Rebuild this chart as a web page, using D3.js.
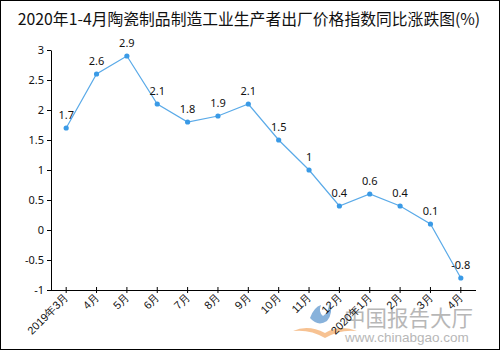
<!DOCTYPE html>
<html><head><meta charset="utf-8">
<script src="https://cdn.jsdelivr.net/npm/d3@7"></script>
<style>body{margin:0;background:#fff;}svg{display:block;font-family:"Noto Sans CJK SC","Noto Sans",sans-serif;}</style>
</head><body>
<svg id="c" width="500" height="350"></svg>
<script>
const title = "2020年1-4月陶瓷制品制造工业生产者出厂价格指数同比涨跌图(%)";
const categories = ["2019年3月","4月","5月","6月","7月","8月","9月","10月","11月","12月","2020年1月","2月","3月","4月"];
const values = [1.7, 2.6, 2.9, 2.1, 1.8, 1.9, 2.1, 1.5, 1, 0.4, 0.6, 0.4, 0.1, -0.8];
const yTicks = [-1, -0.5, 0, 0.5, 1, 1.5, 2, 2.5, 3];

(function(){
const svg = d3.select("#c");
svg.append("rect").attr("x",0.5).attr("y",0.5).attr("width",499).attr("height",349)
  .attr("fill","#fff").attr("stroke","#000");

svg.append("text").attr("x",249).attr("y",25).attr("text-anchor","middle")
  .attr("font-size",15.8).attr("fill","#111").text(title);

const mL = 51, mR = 476, mT = 50, mB = 290;
const idx = d3.range(categories.length);
const x = d3.scaleBand().domain(idx).range([mL, mR]);
const y = d3.scaleLinear().domain([-1, 3]).range([mB, mT]);

const ya = svg.append("g").attr("transform",`translate(${mL},0)`)
  .call(d3.axisLeft(y).tickValues(yTicks).tickFormat(d=>String(d)).tickSize(4).tickSizeOuter(0));
ya.select(".domain").attr("stroke","#000");
ya.selectAll("text").attr("font-size",11).attr("fill","#111").attr("font-family","'Noto Sans',sans-serif");

// watermark (drawn beneath axis labels)
const wm = svg.append("g").attr("opacity",0.6);
wm.append("path").attr("d","M310,318 q4,-11 11,-13 q-3,7 2,11 q6,-4 6,-13 q5,9 -2,18 q-9,6 -17,-3z").attr("fill","#3a7fc4");
wm.append("path").attr("d","M293,331 q15,-7 32,2 q15,-9 32,-2 q-17,-2 -32,7 q-15,-9 -32,-7z").attr("fill","#f29a4a");
wm.append("text").attr("x",344).attr("y",326).attr("font-size",21.5).attr("fill","#888").text("中国报告大厅");
wm.append("text").attr("x",345).attr("y",342).attr("font-size",13.5).attr("fill","#888").attr("font-family","'Liberation Sans',sans-serif").text("www.chinabgao.com");

const xa = svg.append("g").attr("transform",`translate(0,${mB})`)
  .call(d3.axisBottom(x).tickFormat(i=>categories[i]).tickSize(3).tickSizeOuter(0));
xa.select(".domain").attr("stroke","#000").attr("d",`M${mL},0.5H${mR}`);
xa.selectAll(".tick line").attr("y1",-3).attr("y2",3);
xa.selectAll("text").attr("font-size",11).attr("fill","#111")
  .attr("text-anchor","end").attr("dy",0).attr("y",0)
  .attr("transform","translate(3,8) rotate(-45)");

const cx = i => x(i) + x.bandwidth()/2;
const pts = idx.map(i=>({i, v: values[i]}));

const line = d3.line().x(d=>cx(d.i)).y(d=>y(d.v));
svg.append("path").datum(pts).attr("d",line).attr("fill","none").attr("stroke","#5aaae8").attr("stroke-width",1.2);
svg.selectAll("circle.p").data(pts).join("circle").attr("class","p")
  .attr("cx",d=>cx(d.i)).attr("cy",d=>y(d.v)).attr("r",2.6).attr("fill","#3a9ae6");
svg.selectAll("text.lbl").data(pts).join("text").attr("class","lbl")
  .attr("x",d=>cx(d.i)).attr("y",d=>y(d.v)-9).attr("text-anchor","middle")
  .attr("font-size",11).attr("fill","#111").attr("font-family","'Noto Sans',sans-serif")
  .text(d=>String(d.v));
})();
</script>
</body></html>
